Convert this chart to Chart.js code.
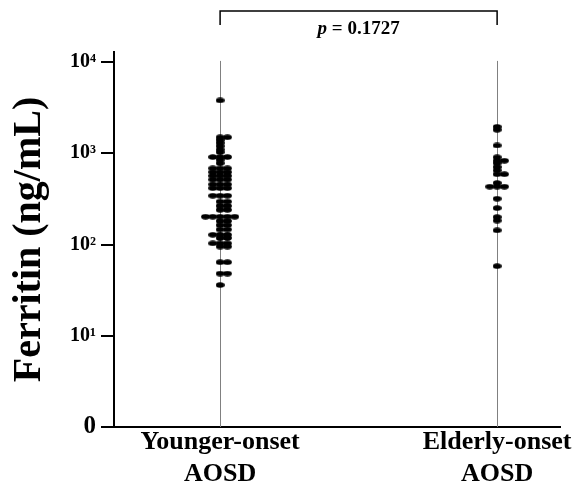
<!DOCTYPE html>
<html>
<head>
<meta charset="utf-8">
<script src="https://cdn.jsdelivr.net/npm/chart.js@4.4.0/dist/chart.umd.min.js"></script>
<style>
  html, body { margin: 0; padding: 0; background: #fff; }
  #wrap { width: 581px; height: 493px; }
</style>
</head>
<body>
<div id="wrap"><canvas id="chart" width="581" height="493"></canvas></div>
<script>
// group labels (two lines each)
const groupLabels = [["Younger-onset", "AOSD"], ["Elderly-onset", "AOSD"]];
const groupPositions = [1, 2];

// ferritin values (ng/mL)
const youngerOnset = [
  3800,
  1500, 1500, 1400, 1300, 1200, 1100, 1030,
  910, 910, 910, 850, 780,
  684, 684, 684, 622, 622, 622, 566, 566, 566,
  515, 515, 515, 456, 456, 456, 415, 415, 415,
  343, 343, 343,
  295, 295, 265, 265, 240, 240,
  202, 202, 202, 202, 202,
  181, 181, 163, 163, 146, 146, 128, 128, 128,
  118, 118, 103, 103, 103, 95, 95,
  64, 64, 48, 48, 36
];
const elderlyOnset = [
  1950, 1810, 1220,
  905, 830, 830, 780, 707, 650, 590, 590,
  472, 431, 431, 431,
  318, 251, 200, 183, 143, 58
];

const yTickValues = [1, 10, 100, 1000, 10000];
const yTickText = ["0", "10\u00B9", "10\u00B2", "10\u00B3", "10\u2074"];
const pValueText = "0.1727";

const Y_MIN = 1;
const Y_MAX = 12900;
const X_MIN = 0.617;
const X_MAX = 2.227;
const DOT_STEP = 0.0264;     // horizontal spacing of tied dots
const LINE_TOP = 10300;      // where the thin group lines start
const SERIF = "'Liberation Serif', 'Times New Roman', 'DejaVu Serif', serif";

// ellipse marker
const dot = document.createElement("canvas");
dot.width = 9;
dot.height = 6;
(function () {
  const c = dot.getContext("2d");
  c.fillStyle = "#000";
  c.beginPath();
  c.ellipse(4.5, 3, 4.4, 2.7, 0, 0, Math.PI * 2);
  c.fill();
})();

// spread tied values sideways: centre, right, left, ...
function swarm(values, center) {
  const order = [0, 1, -1, 2, -2, 3, -3];
  const seen = {};
  return values.map((v) => {
    const k = seen[v] || 0;
    seen[v] = k + 1;
    return { x: center + order[k] * DOT_STEP, y: v };
  });
}

// thin vertical lines at each group + the p-value bracket
const extras = {
  id: "extras",
  beforeDatasetsDraw(chart) {
    const { ctx, scales } = chart;
    const top = scales.y.getPixelForValue(LINE_TOP);
    const bottom = scales.y.getPixelForValue(Y_MIN);
    ctx.save();
    ctx.strokeStyle = "#808080";
    ctx.lineWidth = 1;
    groupPositions.forEach((g) => {
      const x = Math.round(scales.x.getPixelForValue(g)) + 0.5;
      ctx.beginPath();
      ctx.moveTo(x, top);
      ctx.lineTo(x, bottom);
      ctx.stroke();
    });
    ctx.restore();
  },
  afterDraw(chart) {
    const { ctx, scales } = chart;
    const x1 = scales.x.getPixelForValue(groupPositions[0]);
    const x2 = scales.x.getPixelForValue(groupPositions[1]);
    ctx.save();
    ctx.strokeStyle = "#000";
    ctx.lineWidth = 1.5;
    ctx.beginPath();
    ctx.moveTo(x1, 25);
    ctx.lineTo(x1, 11);
    ctx.lineTo(x2, 11);
    ctx.lineTo(x2, 25);
    ctx.stroke();

    // "p = 0.1727" with italic p
    const italic = "italic bold 19px " + SERIF;
    const bold = "bold 19px " + SERIF;
    ctx.font = italic;
    const wp = ctx.measureText("p").width;
    ctx.font = bold;
    const rest = " = " + pValueText;
    const wr = ctx.measureText(rest).width;
    let x = (x1 + x2) / 2 - (wp + wr) / 2;
    ctx.fillStyle = "#000";
    ctx.textBaseline = "middle";
    ctx.textAlign = "left";
    ctx.font = italic;
    ctx.fillText("p", x, 29);
    ctx.font = bold;
    ctx.fillText(rest, x + wp, 29);
    ctx.restore();
  },
};

new Chart(document.getElementById("chart"), {
  type: "scatter",
  data: {
    datasets: [
      { label: "Younger-onset AOSD", data: swarm(youngerOnset, groupPositions[0]) },
      { label: "Elderly-onset AOSD", data: swarm(elderlyOnset, groupPositions[1]) },
    ],
  },
  options: {
    responsive: false,
    animation: false,
    events: [],
    layout: { padding: { top: 52, right: 21, left: 0, bottom: 0 } },
    elements: {
      point: { pointStyle: dot, radius: 4, borderWidth: 0 },
    },
    plugins: {
      legend: { display: false },
      tooltip: { enabled: false },
    },
    scales: {
      x: {
        type: "linear",
        min: X_MIN,
        max: X_MAX,
        afterBuildTicks: (scale) => {
          scale.ticks = groupPositions.map((v) => ({ value: v }));
        },
        afterFit: (scale) => {
          scale.height = 66;
        },
        grid: { display: false, drawTicks: false },
        border: { display: true, color: "#000", width: 2 },
        ticks: {
          padding: 0,
          color: "#000",
          autoSkip: false,
          maxRotation: 0,
          font: { family: SERIF, size: 26, weight: "bold", lineHeight: 1.2 },
          callback: (value) => groupLabels[groupPositions.indexOf(value)] || "",
        },
      },
      y: {
        type: "logarithmic",
        min: Y_MIN,
        max: Y_MAX,
        afterBuildTicks: (scale) => {
          scale.ticks = yTickValues.map((v) => ({ value: v }));
        },
        afterFit: (scale) => {
          scale.width = 114;
        },
        grid: {
          drawOnChartArea: false,
          drawTicks: true,
          tickLength: 13,
          color: "#000",
          lineWidth: 2,
        },
        border: { display: true, color: "#000", width: 2 },
        ticks: {
          padding: 5,
          color: "#000",
          autoSkip: false,
          font: (ctx) =>
            ctx.tick && ctx.tick.value === 1
              ? { family: SERIF, size: 25, weight: "bold" }
              : { family: SERIF, size: 20, weight: "bold" },
          callback: (value) => yTickText[yTickValues.indexOf(value)],
        },
        title: {
          display: true,
          text: "Ferritin (ng/mL)",
          color: "#000",
          padding: { top: 6, bottom: 0 },
          font: { family: SERIF, size: 40, weight: "bold" },
        },
      },
    },
  },
  plugins: [extras],
});
</script>
</body>
</html>
